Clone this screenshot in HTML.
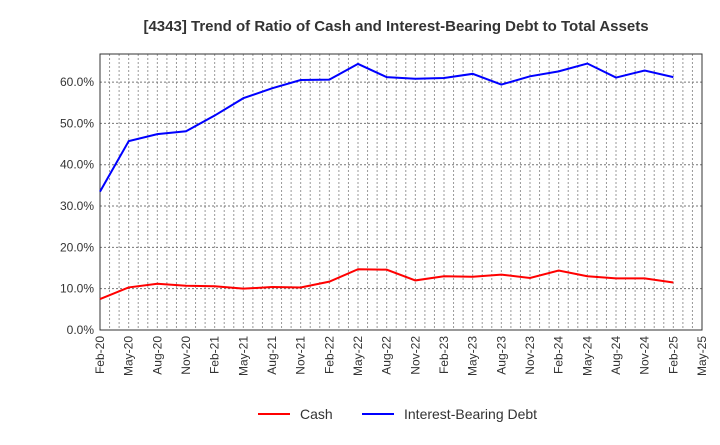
<!DOCTYPE html>
<html><head><meta charset="utf-8"><style>
body{margin:0;background:#fff;font-family:"Liberation Sans",sans-serif;}
</style></head><body>
<svg id="c" width="720" height="440" xmlns="http://www.w3.org/2000/svg">
<text x="396" y="31" text-anchor="middle" font-size="15" font-weight="bold" fill="#333">[4343]  Trend of Ratio of Cash and Interest-Bearing Debt to Total Assets</text>
<g id="grid"></g><g id="axes"></g><g id="series"></g>
<g>
<line x1="258" y1="414" x2="290" y2="414" stroke="#f00" stroke-width="2"/>
<text x="300" y="419" font-size="14" fill="#333">Cash</text>
<line x1="362" y1="414" x2="394" y2="414" stroke="#00f" stroke-width="2"/>
<text x="404" y="419" font-size="14" fill="#333">Interest-Bearing Debt</text>
</g>
</svg>
<script>
const categories=["Feb-20","May-20","Aug-20","Nov-20","Feb-21","May-21","Aug-21","Nov-21","Feb-22","May-22","Aug-22","Nov-22","Feb-23","May-23","Aug-23","Nov-23","Feb-24","May-24","Aug-24","Nov-24","Feb-25","May-25"];
const cash=[7.5,10.3,11.2,10.7,10.6,10.0,10.4,10.3,11.7,14.7,14.6,12.0,13.0,12.9,13.4,12.6,14.4,13.0,12.5,12.5,11.5];
const debt=[33.5,45.7,47.4,48.1,51.9,56.1,58.5,60.5,60.6,64.4,61.2,60.8,61.0,62.0,59.4,61.4,62.6,64.5,61.1,62.8,61.2];
const yTicks=[0,10,20,30,40,50,60];
const L=100,R=702,T=54,B=330,YMAX=66.8;
const NS="http://www.w3.org/2000/svg";
const xs=i=>L+i*(R-L)/(categories.length-1);
const ys=v=>B-v/YMAX*(B-T);
function mk(tag,attrs,parent){const e=document.createElementNS(NS,tag);for(const k in attrs)e.setAttribute(k,attrs[k]);document.getElementById(parent).appendChild(e);return e;}
// monthly vertical grid
for(let m=1;m<63;m++){const x=L+m*(R-L)/63;
const g=mk('line',{x1:x,x2:x,y1:T,y2:B,stroke:'#999','stroke-dasharray':'2,2','stroke-width':1},'grid');

}
yTicks.forEach(v=>{const y=ys(v);
if(v>0){const g=mk('line',{x1:L,x2:R,y1:y,y2:y,stroke:'#777','stroke-dasharray':'2,2'},'grid');

}
const t=mk('text',{x:L-6,y:y+4,'text-anchor':'end','font-size':12,fill:'#333'},'axes');t.textContent=v.toFixed(1)+'%';

});
const fr=mk('rect',{x:L,y:T,width:R-L,height:B-T,fill:'none',stroke:'#333'},'axes');


categories.forEach((c,i)=>{const x=xs(i);
const t=mk('text',{x:x+4,y:B+6,'text-anchor':'end','font-size':12,fill:'#333',transform:`rotate(-90 ${x+4} ${B+6})`},'axes');t.textContent=c;

});
function line(arr,col,name){const p=mk('polyline',{points:arr.map((v,i)=>xs(i)+','+ys(v)).join(' '),fill:'none',stroke:col,'stroke-width':2},'series');

}
line(cash,'#f00','cash-line');
line(debt,'#00f','debt-line');
</script>
</body></html>
